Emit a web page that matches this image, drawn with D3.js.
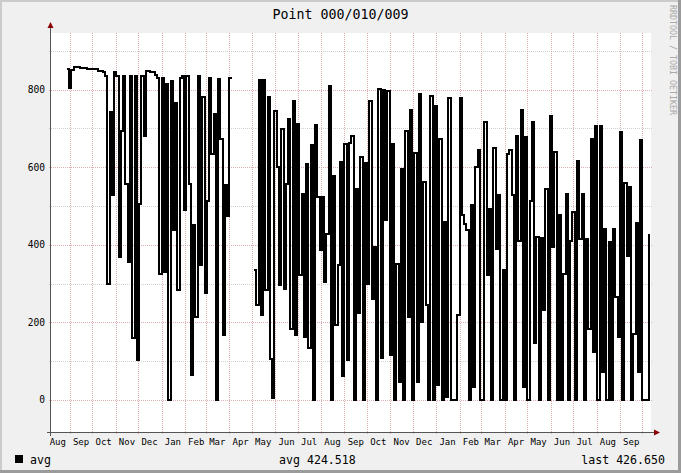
<!DOCTYPE html>
<html><head><meta charset="utf-8">
<script src="https://cdn.jsdelivr.net/npm/d3@7"></script>
<style>
html,body{margin:0;padding:0;background:#f0f0f0;}
svg{display:block;}
text{font-family:"DejaVu Sans Mono",monospace;}
</style></head>
<body>
<script>
// ---- data ----
const title = "Point 000/010/009";
const startDate = "2010-08-28";
const stepDays = 3;
const values = [
 853,805,850,858,857,857,856,856,855,853,853,853,852,852,848,848,846,836,
 300,741,527,844,836,368,694,836,557,356,836,159,836,103,506,836,681,848,848,846,845,838,830,324,
 831,330,814,0,823,437,766,283,829,836,489,836,557,64,450,214,836,347,780,275,514,831,634,737,0,827,673,167,553,475,829,829,
 null,null,null,null,null,null,null,null,null,
 334,244,825,218,825,283,780,105,4,746,600,296,698,287,557,724,184,771,167,711,321,531,163,608,133,656,0,709,523,386,523,304,428,808,0,578,193,347,613,62,660,103,662,
 681,0,544,223,626,0,611,300,771,261,394,0,801,107,800,463,797,116,660,0,351,47,594,0,694,214,748,0,637,47,788,201,561,246,0,784,0,758,38,673,0,458,
 9,777,0,0,0,218,777,476,454,437,0,503,34,600,643,0,0,716,321,491,0,649,390,529,0,334,0,634,643,527,0,681,411,748,34,677,0,514,717,146,420,0,
 418,233,544,0,733,394,639,0,476,0,326,530,0,411,484,0,615,416,531,0,416,184,673,124,707,0,707,73,441,0,407,0,441,266,163,690,0,559,370,549,0,171,456,73,670,0,0,0,426.65
];
const timeDomain = ["2010-08-07T00:00", "2012-10-12T08:00"];
const valueDomain = [-82.4, 945.7];
const yMajorTicks = [0, 200, 400, 600, 800];
const yMinorTicks = [100, 300, 500, 700, 900];
const legendName = "avg";
const legendAvg = "avg 424.518";
const legendLast = "last 426.650";
const watermark = "RRDTOOL / TOBI OETIKER";

// ---- layout ----
const W = 681, H = 473;
const L = 51, R = 651, T = 33, B = 432;

const parse = d3.utcParse("%Y-%m-%dT%H:%M");
const x = d3.scaleUtc().domain(timeDomain.map(parse)).range([L, R]);
const y = d3.scaleLinear().domain(valueDomain).range([B, T]);

const t0 = d3.utcParse("%Y-%m-%d")(startDate);
const data = values.map((v, i) => ({ t: d3.utcDay.offset(t0, i * stepDays), v }));

const svg = d3.select("body").append("svg").attr("width", W).attr("height", H);

// background & frame
svg.append("rect").attr("width", W).attr("height", H).attr("fill", "#f0f0f0");
svg.append("rect").attr("x", 0).attr("y", 0).attr("width", W).attr("height", 2).attr("fill", "#cbcbcb");
svg.append("rect").attr("x", 0).attr("y", 0).attr("width", 2).attr("height", H).attr("fill", "#cbcbcb");
svg.append("rect").attr("x", 0).attr("y", H - 3).attr("width", W).attr("height", 3).attr("fill", "#9b9b9b");
svg.append("rect").attr("x", W - 3).attr("y", 0).attr("width", 3).attr("height", H).attr("fill", "#9b9b9b");

// canvas
svg.append("rect").attr("x", L).attr("y", T).attr("width", R - L).attr("height", B - T).attr("fill", "#ffffff");

// grid
const g = svg.append("g").attr("shape-rendering", "crispEdges");
g.selectAll(".ymin").data(yMinorTicks).join("line")
  .attr("x1", L - 2).attr("x2", R + 2)
  .attr("y1", d => Math.round(y(d)) + 0.5).attr("y2", d => Math.round(y(d)) + 0.5)
  .attr("stroke", "#d2d2d2").attr("stroke-width", 1).attr("stroke-dasharray", "1,1");
g.selectAll(".ymaj").data(yMajorTicks).join("line")
  .attr("x1", L - 2).attr("x2", R + 2)
  .attr("y1", d => Math.round(y(d)) + 0.5).attr("y2", d => Math.round(y(d)) + 0.5)
  .attr("stroke", "#deb0b0").attr("stroke-width", 1).attr("stroke-dasharray", "1,1");
const months = d3.utcMonth.range(x.domain()[0], x.domain()[1]).filter(d => x(d) > L);
g.selectAll(".xg").data(months).join("line")
  .attr("x1", d => Math.round(x(d)) + 0.5).attr("x2", d => Math.round(x(d)) + 0.5)
  .attr("y1", T).attr("y2", B + 2)
  .attr("stroke", "#deb0b0").attr("stroke-width", 1).attr("stroke-dasharray", "1,1");

// y labels
svg.selectAll(".yl").data(yMajorTicks).join("text")
  .attr("x", 45).attr("y", d => y(d)).attr("dy", "0.35em")
  .attr("text-anchor", "end").attr("font-size", "9.6px").attr("fill", "#000")
  .text(d => d3.format("d")(d));

// x labels (centred mid-month), only those whose centre lies inside the plot
const fmt = d3.utcFormat("%b");
const labelMonths = d3.utcMonth.range(d3.utcMonth.floor(x.domain()[0]), x.domain()[1])
  .filter(d => x(d3.utcDay.offset(d, 15)) < R);
svg.selectAll(".xl").data(labelMonths).join("text")
  .attr("x", d => x(d3.utcDay.offset(d, 15))).attr("y", 445)
  .attr("text-anchor", "middle").attr("font-size", "9px").attr("fill", "#000")
  .text(d => fmt(d));

// data line
const line = d3.line().defined(d => d.v != null)
  .x(d => x(d.t)).y(d => y(d.v)).curve(d3.curveStepAfter);
svg.append("path").datum(data).attr("d", line)
  .attr("fill", "none").attr("stroke", "#000").attr("stroke-width", 2)
  .attr("stroke-linejoin", "miter").attr("shape-rendering", "crispEdges");

// axes
svg.append("line").attr("x1", L - 0.5).attr("x2", L - 0.5).attr("y1", B + 4).attr("y2", T - 5)
  .attr("stroke", "#555").attr("stroke-width", 1);
svg.append("line").attr("x1", L - 4).attr("x2", R + 4).attr("y1", B + 0.5).attr("y2", B + 0.5)
  .attr("stroke", "#555").attr("stroke-width", 1);
svg.append("path").attr("d", `M${L - 3.5},${T - 5} L${L + 2.5},${T - 5} L${L - 0.5},${T - 11} Z`).attr("fill", "#8b0000");
svg.append("path").attr("d", `M${R + 3},${B - 2.5} L${R + 3},${B + 3.5} L${R + 9},${B + 0.5} Z`).attr("fill", "#8b0000");

// title
svg.append("text").attr("x", 340.5).attr("y", 19).attr("text-anchor", "middle")
  .attr("font-size", "13.3px").attr("fill", "#000").text(title);

// watermark
svg.append("text").attr("transform", "translate(669.5,5) rotate(90)")
  .attr("font-size", "8.3px").attr("fill", "#a8a8a8").text(watermark);

// legend
svg.append("rect").attr("x", 15).attr("y", 455).attr("width", 8).attr("height", 8).attr("fill", "#000");
svg.append("text").attr("x", 30).attr("y", 463.5).attr("font-size", "11.6px").text(legendName);
svg.append("text").attr("x", 279).attr("y", 463.5).attr("font-size", "11.6px").text(legendAvg);
svg.append("text").attr("x", 665).attr("y", 463.5).attr("text-anchor", "end").attr("font-size", "11.6px").text(legendLast);
</script>
</body></html>
